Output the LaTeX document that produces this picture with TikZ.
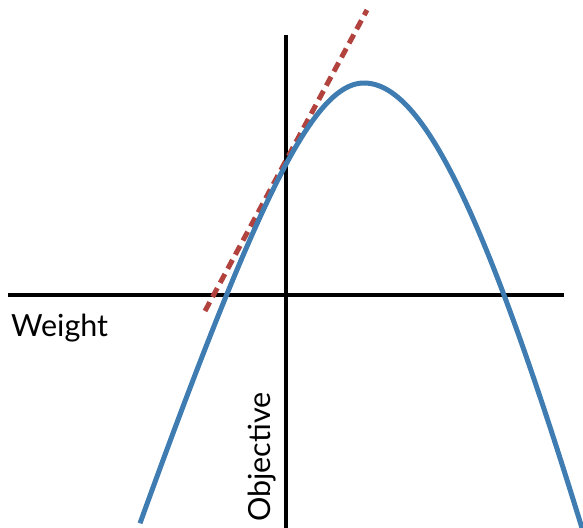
\documentclass[tikz,border=0pt]{standalone}
\usepackage{fontspec}
\setmainfont{Lato}
\definecolor{curveblue}{RGB}{62,124,177}
\definecolor{tanred}{RGB}{178,66,62}
\begin{document}
\begin{tikzpicture}[x=1pt,y=-1pt,
  axis/.style={line width=4pt,black},
  curve/.style={line width=5pt,curveblue},
  tangent/.style={line width=5pt,tanred,dash pattern=on 10pt off 6pt},
  lbl/.style={font=\fontsize{30.5}{32}\selectfont,inner sep=0pt}]
\useasboundingbox (0,0) rectangle (583,527);
% axes
\coordinate (xl) at (8,295);
\coordinate (xr) at (564,295);
\coordinate (yt) at (286,35);
\coordinate (yb) at (286,530);
\draw[axis] (xl) -- (xr);
\draw[axis] (yt) -- (yb);
% tangent
\coordinate (t1) at (205,311);
\coordinate (t2) at (367,10);
\draw[tangent] (t1) -- (t2);
% curve
\draw[curve] plot[domain=-224:0,samples=80] ({\x+364},{83+303*(sqrt(1+(\x/100)^2)-1)})
  -- plot[domain=0:222,samples=80] ({\x+364},{83+645*(sqrt(1+(\x/160)^2)-1)});
% labels
\node[lbl,anchor=base west] (weight) at (11,336) {Weight};
\node[lbl,anchor=base west,rotate=90] (objective) at (270,522) {Objective};
\end{tikzpicture}
\end{document}
